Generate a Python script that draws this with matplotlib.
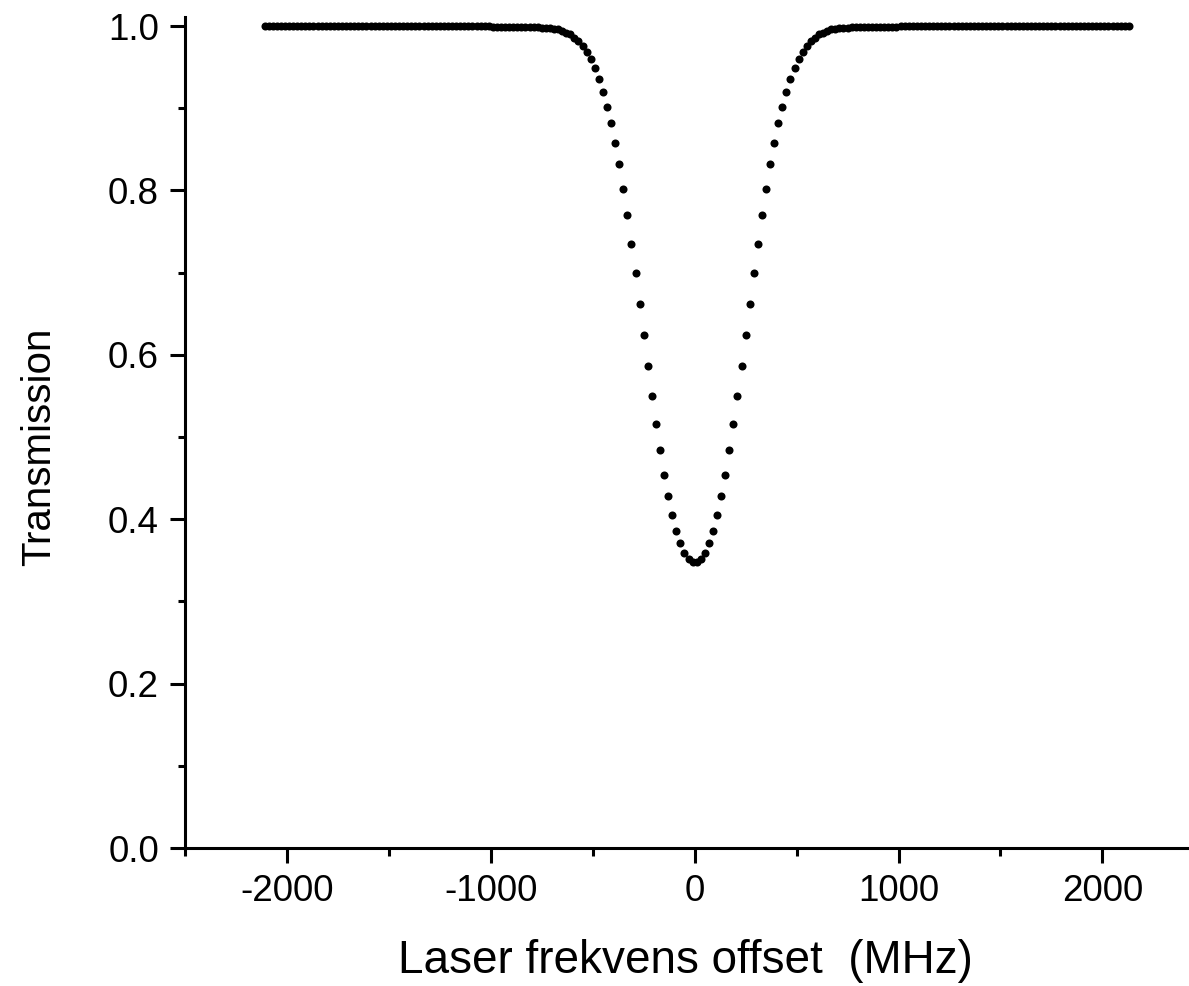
import matplotlib
matplotlib.use("Agg")
import matplotlib.pyplot as plt
from matplotlib.ticker import MultipleLocator

plt.rcParams['font.family'] = ['Liberation Sans', 'DejaVu Sans']
plt.rcParams['axes.unicode_minus'] = False

# laser frequency offset (MHz), scan points
frekvens = [
    -2110, -2090, -2070, -2050, -2030, -2010, -1990, -1970, -1950, -1930, -1910, -1890,
    -1870, -1850, -1830, -1810, -1790, -1770, -1750, -1730, -1710, -1690, -1670, -1650,
    -1630, -1610, -1590, -1570, -1550, -1530, -1510, -1490, -1470, -1450, -1430, -1410,
    -1390, -1370, -1350, -1330, -1310, -1290, -1270, -1250, -1230, -1210, -1190, -1170,
    -1150, -1130, -1110, -1090, -1070, -1050, -1030, -1010, -990, -970, -950, -930,
    -910, -890, -870, -850, -830, -810, -790, -770, -750, -730, -710, -690,
    -670, -650, -630, -610, -590, -570, -550, -530, -510, -490, -470, -450,
    -430, -410, -390, -370, -350, -330, -310, -290, -270, -250, -230, -210,
    -190, -170, -150, -130, -110, -90, -70, -50, -30, -10,
    10, 30, 50, 70, 90, 110, 130, 150, 170, 190, 210, 230,
    250, 270, 290, 310, 330, 350, 370, 390, 410, 430, 450, 470,
    490, 510, 530, 550, 570, 590, 610, 630, 650, 670, 690, 710,
    730, 750, 770, 790, 810, 830, 850, 870, 890, 910, 930, 950,
    970, 990, 1010, 1030, 1050, 1070, 1090, 1110, 1130, 1150, 1170, 1190,
    1210, 1230, 1250, 1270, 1290, 1310, 1330, 1350, 1370, 1390, 1410, 1430,
    1450, 1470, 1490, 1510, 1530, 1550, 1570, 1590, 1610, 1630, 1650, 1670,
    1690, 1710, 1730, 1750, 1770, 1790, 1810, 1830, 1850, 1870, 1890, 1910,
    1930, 1950, 1970, 1990, 2010, 2030, 2050, 2070, 2090, 2110, 2130,
]

transmission = [
    1.000, 1.000, 1.000, 1.000, 1.000, 1.000, 1.000, 1.000, 1.000, 1.000, 1.000, 1.000,
    1.000, 1.000, 1.000, 1.000, 1.000, 1.000, 1.000, 1.000, 1.000, 1.000, 1.000, 1.000,
    1.000, 1.000, 1.000, 1.000, 1.000, 1.000, 1.000, 1.000, 1.000, 1.000, 1.000, 1.000,
    1.000, 1.000, 1.000, 1.000, 1.000, 1.000, 1.000, 1.000, 1.000, 1.000, 1.000, 1.000,
    1.000, 1.000, 1.000, 1.000, 1.000, 1.000, 1.000, 1.000, 0.999, 0.999, 0.999, 0.999,
    0.999, 0.999, 0.999, 0.999, 0.999, 0.999, 0.999, 0.999, 0.998, 0.998, 0.998, 0.997,
    0.996, 0.994, 0.992, 0.990, 0.986, 0.982, 0.976, 0.969, 0.960, 0.949, 0.936, 0.920,
    0.902, 0.882, 0.858, 0.832, 0.802, 0.770, 0.735, 0.699, 0.662, 0.624, 0.587, 0.550,
    0.516, 0.484, 0.454, 0.428, 0.405, 0.386, 0.371, 0.359, 0.352, 0.348,
    0.348, 0.352, 0.359, 0.371, 0.386, 0.405, 0.428, 0.454, 0.484, 0.516, 0.550, 0.587,
    0.624, 0.662, 0.699, 0.735, 0.770, 0.802, 0.832, 0.858, 0.882, 0.902, 0.920, 0.936,
    0.949, 0.960, 0.969, 0.976, 0.982, 0.986, 0.990, 0.992, 0.994, 0.996, 0.997, 0.998,
    0.998, 0.998, 0.999, 0.999, 0.999, 0.999, 0.999, 0.999, 0.999, 0.999, 0.999, 0.999,
    0.999, 0.999, 1.000, 1.000, 1.000, 1.000, 1.000, 1.000, 1.000, 1.000, 1.000, 1.000,
    1.000, 1.000, 1.000, 1.000, 1.000, 1.000, 1.000, 1.000, 1.000, 1.000, 1.000, 1.000,
    1.000, 1.000, 1.000, 1.000, 1.000, 1.000, 1.000, 1.000, 1.000, 1.000, 1.000, 1.000,
    1.000, 1.000, 1.000, 1.000, 1.000, 1.000, 1.000, 1.000, 1.000, 1.000, 1.000, 1.000,
    1.000, 1.000, 1.000, 1.000, 1.000, 1.000, 1.000, 1.000, 1.000, 1.000, 1.000,
]

x_ticks = [-2000, -1000, 0, 1000, 2000]
y_ticks = [0.0, 0.2, 0.4, 0.6, 0.8, 1.0]

fig = plt.figure(figsize=(11.89, 9.86), dpi=100)
ax = fig.add_axes([185 / 1189, 138 / 986, 1004 / 1189, 831 / 986])

ax.plot(frekvens, transmission, 'o', color='black', markersize=5.8, markeredgewidth=0)

ax.set_xlim(-2500, 2425)
ax.set_ylim(0.0, 1.011)
ax.set_xticks(x_ticks)
ax.set_yticks(y_ticks)
ax.set_yticklabels([f'{v:.1f}' for v in y_ticks])
ax.xaxis.set_minor_locator(MultipleLocator(500))
ax.yaxis.set_minor_locator(MultipleLocator(0.1))

for side in ['top', 'right']:
    ax.spines[side].set_visible(False)
for side in ['left', 'bottom']:
    ax.spines[side].set_linewidth(2.2)

ax.tick_params(which='major', direction='out', length=10.8, width=2.2,
               labelsize=26.5, pad=8, colors='black')
ax.tick_params(which='minor', direction='out', length=5.4, width=2.2)

ax.set_xlabel('Laser frekvens offset  (MHz)', fontsize=33)
ax.set_ylabel('Transmission', fontsize=29)
ax.xaxis.set_label_coords(0.498, -0.109)
ax.yaxis.set_label_coords(-0.126, 0.483)

fig.savefig('out.png', dpi=100)
